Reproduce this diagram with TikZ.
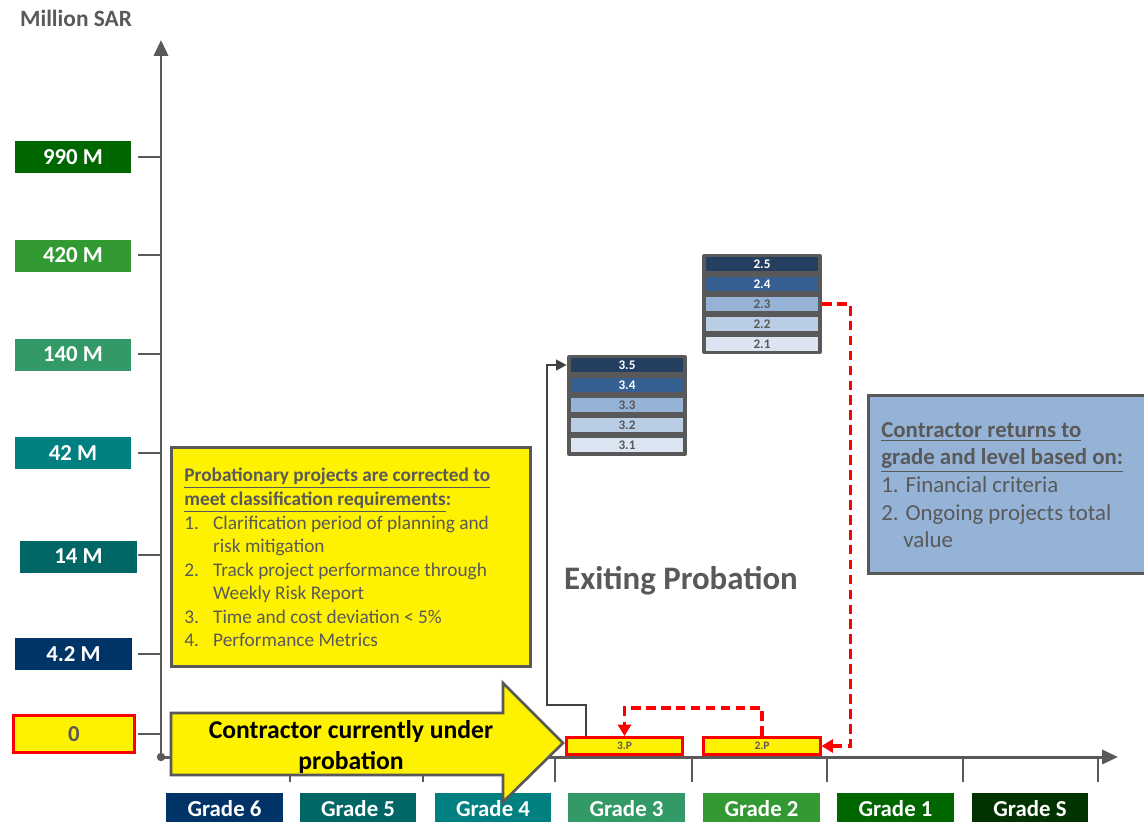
\documentclass[tikz,border=0pt]{standalone}
\usepackage{fontspec}
\setmainfont{Carlito}
\usetikzlibrary{arrows.meta}

\definecolor{axisgray}{HTML}{595959}
\definecolor{darkgray}{HTML}{404040}
\definecolor{cgreenA}{HTML}{006600}
\definecolor{cgreenB}{HTML}{339933}
\definecolor{cgreenC}{HTML}{339966}
\definecolor{cteal}{HTML}{008080}
\definecolor{cdteal}{HTML}{006666}
\definecolor{cnavy}{HTML}{003366}
\definecolor{cforest}{HTML}{003300}
\definecolor{lvlA}{HTML}{243F60}
\definecolor{lvlB}{HTML}{366092}
\definecolor{lvlC}{HTML}{95B3D7}
\definecolor{lvlD}{HTML}{B9CDE5}
\definecolor{lvlE}{HTML}{DCE6F2}
\definecolor{infoblue}{HTML}{95B3D7}

\tikzset{
  axisline/.style={draw=axisgray, line width=1.7pt},
  tickline/.style={draw=axisgray, line width=1.4pt},
  ylab/.style={fill=#1, text=white, inner sep=0pt,
    font=\bfseries\fontsize{13}{15}\selectfont,
    minimum width=2.32cm, minimum height=0.64cm},
  gradebox/.style={fill=#1, text=white, inner sep=0pt,
    font=\bfseries\fontsize{13}{15}\selectfont,
    minimum width=2.34cm, minimum height=0.64cm},
  framebox/.style={fill=axisgray, rounded corners=1.2pt, inner sep=0pt,
    minimum width=2.4cm},
  lvl/.style 2 args={fill=#1, text=#2, inner sep=0pt,
    font=\bfseries\fontsize{7.5}{8}\selectfont,
    minimum width=2.26cm, minimum height=0.28cm},
  pbox/.style={fill=yellow, draw=red, line width=1.5pt, inner sep=0pt,
    font=\bfseries\fontsize{6.5}{7}\selectfont, text=axisgray,
    minimum width=2.33cm, minimum height=0.35cm},
  rdash/.style={draw=red, line width=2pt, dash pattern=on 5.5pt off 3pt,
    -{Triangle[length=6.5pt,width=7.5pt]}},
  garrow/.style={draw=darkgray, line width=1.3pt,
    -{Triangle[length=6pt,width=6pt]}},
}

\begin{document}
\begin{tikzpicture}[x=0.02cm, y=-0.02cm]
\useasboundingbox (0,0) rectangle (1144,822);

% axis title
\node[text=axisgray, font=\bfseries\fontsize{13.3}{15}\selectfont]
  (title) at (76,18) {Million SAR};

% axes
\coordinate (origin) at (161,757);
\coordinate (ytop) at (161,40);
\coordinate (xend) at (1118,757);
\draw[axisline, -{Triangle[length=9pt,width=8pt]}] (origin) -- (ytop);
\draw[axisline, -{Triangle[length=9pt,width=8pt]}] (origin) -- (xend);
\fill[axisgray] (origin) circle (2.4pt);
\foreach \yy in {157,255,354,453,555,654,734}
  \draw[tickline] (138,\yy) -- (161,\yy);
\foreach \xx in {290,423,555,692,827,963,1098}
  \draw[tickline] (\xx,757) -- (\xx,782);

% value labels on the vertical axis
\node[ylab=cgreenA] (l990) at (73,157) {990 M};
\node[ylab=cgreenB] (l420) at (73,255.5) {420 M};
\node[ylab=cgreenC] (l140) at (73,354.5) {140 M};
\node[ylab=cteal]   (l42)  at (73,453) {42 M};
\node[ylab=cdteal, minimum width=2.34cm]  (l14)  at (78.5,556.5) {14 M};
\node[ylab=cnavy,  minimum width=2.34cm]  (l4)   at (73.5,654) {4.2 M};
\node[fill=yellow, draw=red, line width=1.7pt, text=axisgray, inner sep=0pt,
  font=\bfseries\fontsize{13}{15}\selectfont,
  minimum width=2.42cm, minimum height=0.74cm] (l0) at (74,734) {0};

% grade labels under the horizontal axis
\node[gradebox=cnavy]   (g6) at (224.5,809) {Grade 6};
\node[gradebox=cdteal]  (g5) at (358,809)   {Grade 5};
\node[gradebox=cteal]   (g4) at (493,809)   {Grade 4};
\node[gradebox=cgreenC] (g3) at (626.5,809) {Grade 3};
\node[gradebox=cgreenB] (g2) at (761.5,809) {Grade 2};
\node[gradebox=cgreenA] (g1) at (895.5,809) {Grade 1};
\node[gradebox=cforest] (gs) at (1030,809)  {Grade S};

% probation requirements box
\node[fill=yellow, draw=axisgray, line width=1.7pt, inner sep=0pt,
  minimum width=7.2cm, minimum height=4.4cm] (probbox) at (351,557) {};
\node[anchor=north west, inner sep=0pt, align=left, text=axisgray,
  font=\fontsize{11}{13.4}\selectfont] (probtext) at (184,468)
  {\textbf{\underline{Probationary projects are corrected to}}\\
   \textbf{\underline{meet classification requirements}:}\\
   \makebox[16.4pt][l]{1.}Clarification period of planning and\\
   \hspace*{16.4pt}risk mitigation\\
   \makebox[16.4pt][l]{2.}Track project performance through\\
   \hspace*{16.4pt}Weekly Risk Report\\
   \makebox[16.4pt][l]{3.}Time and cost deviation < 5\%\\
   \makebox[16.4pt][l]{4.}Performance Metrics};

% return criteria box
\node[fill=infoblue, draw=axisgray, line width=1.7pt, inner sep=0pt,
  minimum width=5.64cm, minimum height=3.58cm] (retbox) at (1009,484.5) {};
\node[anchor=north west, inner sep=0pt, align=left, text=axisgray,
  font=\fontsize{13}{15.7}\selectfont] (rettext) at (881,422)
  {\textbf{\underline{Contractor returns to}}\\
   \textbf{\underline{grade and level based on:}}\\
   1. Financial criteria\\
   2. Ongoing projects total\\
   \hspace*{12.6pt}value};

% big arrow: contractor under probation
\draw[fill=yellow, draw=axisgray, line width=1.5pt, line join=miter]
  (171,713) -- (503,713) -- (503,683) -- (563,743) -- (503,802)
  -- (503,775) -- (171,775) -- cycle;
\node[align=center, text=black, inner sep=0pt,
  font=\bfseries\fontsize{14.6}{18}\selectfont] (probarrow) at (351,747)
  {Contractor currently under\\probation};

% heading
\node[text=axisgray, font=\bfseries\fontsize{18.7}{20}\selectfont]
  (exiting) at (681,581) {Exiting Probation};

% grade 3 levels
\node[framebox, minimum height=2.02cm] (stk3) at (627,405.5) {};
\node[lvl={lvlA}{white}]     (s35) at (627,365) {3.5};
\node[lvl={lvlB}{white}]     (s34) at (627,385) {3.4};
\node[lvl={lvlC}{axisgray}]  (s33) at (627,405) {3.3};
\node[lvl={lvlD}{axisgray}]  (s32) at (627,425) {3.2};
\node[lvl={lvlE}{axisgray}]  (s31) at (627,445) {3.1};

% grade 2 levels
\node[framebox, minimum height=2.0cm] (stk2) at (762,304) {};
\node[lvl={lvlA}{white}]     (s25) at (762,264) {2.5};
\node[lvl={lvlB}{white}]     (s24) at (762,284) {2.4};
\node[lvl={lvlC}{axisgray}]  (s23) at (762,304) {2.3};
\node[lvl={lvlD}{axisgray}]  (s22) at (762,324) {2.2};
\node[lvl={lvlE}{axisgray}]  (s21) at (762,344) {2.1};

% probation levels
\node[pbox] (p3) at (624.5,746) {3.P};
\node[pbox] (p2) at (762,746) {2.P};

% connectors
\coordinate (bend) at (547,705);
\draw[garrow]
  ([xshift=0.42cm]p3.north west) |- (bend) |- (stk3.west |- s35.west);
\draw[rdash] (stk2.east |- s23.east) -- ++(28,0) |- (p2.east);
\draw[rdash] (p2.north) -- ++(0,-28) -| (p3.north);

\end{tikzpicture}
\end{document}
